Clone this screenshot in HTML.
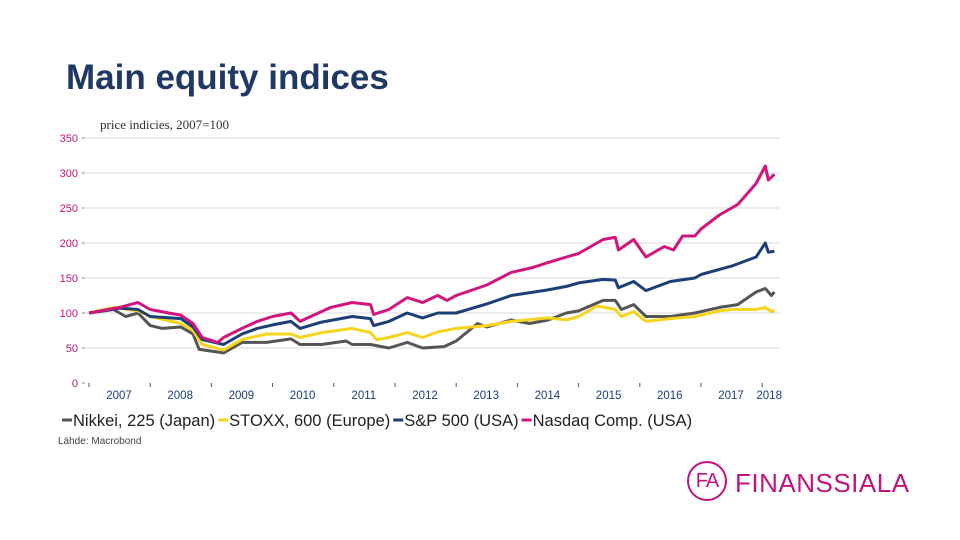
<!DOCTYPE html>
<html><head><meta charset="utf-8"><style>
body{margin:0;background:#fff;width:960px;height:540px;overflow:hidden;position:relative;font-family:"Liberation Sans",sans-serif}
.t{position:absolute;white-space:nowrap}
</style></head><body>
<div class="t" style="left:66px;top:58px;font-size:35px;font-weight:bold;color:#203864">Main equity indices</div>
<div class="t" style="left:100px;top:117px;font-size:13px;font-family:'Liberation Serif',serif;color:#333">price indicies, 2007=100</div>
<svg id="chart" width="960" height="540" style="position:absolute;left:0;top:0"></svg>
<div class="t" style="left:58px;top:436px;font-size:10px;color:#444">Lähde: Macrobond</div>
<div style="position:absolute;left:687px;top:461px;">
<div style="position:absolute;left:0;top:0;width:40px;height:40px;border:2px solid #c0157f;border-radius:50%;box-sizing:border-box;color:#c0157f;font-size:20px;line-height:36px;text-align:center;letter-spacing:-1px">FA</div>
<div class="t" style="left:48px;top:7px;font-size:26px;color:#c0157f;letter-spacing:0.5px">FINANSSIALA</div>
</div>
<script>
const yTicks=[0,50,100,150,200,250,300,350];
const years=[2007,2008,2009,2010,2011,2012,2013,2014,2015,2016,2017,2018];
const seriesNames=["Nikkei, 225 (Japan)","STOXX, 600 (Europe)","S&P 500 (USA)","Nasdaq Comp. (USA)"];
const nikkeiT=[2007,2007.4,2007.6,2007.8,2008.0,2008.2,2008.5,2008.7,2008.8,2009.2,2009.5,2009.9,2010.3,2010.45,2010.8,2011.2,2011.3,2011.6,2011.9,2012.2,2012.45,2012.8,2013.0,2013.35,2013.5,2013.9,2014.2,2014.5,2014.8,2015.0,2015.4,2015.6,2015.7,2015.9,2016.1,2016.5,2016.9,2017.3,2017.6,2017.9,2018.05,2018.15,2018.2];
const nikkeiV=[100,105,95,100,82,78,80,70,48,43,58,58,63,55,55,60,55,55,50,58,50,52,60,85,80,90,85,90,100,103,118,118,105,112,95,95,100,108,112,130,135,125,130];
const stoxxT=[2007,2007.4,2007.8,2008.0,2008.5,2008.7,2008.85,2009.2,2009.5,2009.9,2010.3,2010.45,2010.8,2011.3,2011.6,2011.7,2011.9,2012.2,2012.45,2012.7,2013.0,2013.5,2013.9,2014.5,2014.8,2015.0,2015.3,2015.6,2015.7,2015.9,2016.1,2016.5,2016.9,2017.3,2017.5,2017.9,2018.05,2018.15,2018.2];
const stoxxV=[100,108,103,95,85,75,55,47,62,70,70,65,72,78,72,62,65,72,65,73,78,82,88,93,90,95,110,105,95,102,88,92,95,103,105,105,108,102,104];
const spT=[2007,2007.5,2007.8,2008.0,2008.5,2008.7,2008.85,2009.2,2009.5,2009.75,2010.0,2010.3,2010.45,2010.8,2011.3,2011.6,2011.65,2011.9,2012.2,2012.45,2012.7,2013.0,2013.5,2013.9,2014.5,2014.8,2015.0,2015.4,2015.6,2015.65,2015.9,2016.1,2016.5,2016.9,2017.0,2017.5,2017.9,2018.05,2018.1,2018.2];
const spV=[100,107,105,95,92,80,62,55,70,78,83,88,78,87,95,92,82,88,100,93,100,100,113,125,133,138,143,148,147,136,145,132,145,150,155,167,180,200,187,188];
const nasT=[2007,2007.5,2007.8,2008.0,2008.3,2008.5,2008.7,2008.85,2009.1,2009.2,2009.5,2009.75,2010.0,2010.3,2010.45,2010.7,2010.95,2011.3,2011.6,2011.65,2011.9,2012.2,2012.45,2012.7,2012.85,2013.0,2013.5,2013.9,2014.25,2014.5,2014.8,2015.0,2015.4,2015.6,2015.65,2015.9,2016.1,2016.4,2016.55,2016.7,2016.9,2017.0,2017.3,2017.6,2017.9,2018.05,2018.1,2018.2];
const nasV=[100,108,115,105,100,97,85,65,58,65,78,88,95,100,88,98,108,115,112,98,105,122,115,125,118,125,140,158,165,172,180,185,205,208,190,205,180,195,190,210,210,220,240,255,285,310,290,298];
const colors=["#555555","#f5d51e","#1c3f75","#d1177e"];
const X=t=>89+(t-2007)*61.2;
const Y=v=>383-v*0.7;
const svg=document.getElementById('chart');
const NS="http://www.w3.org/2000/svg";
function mk(tag,attrs){const e=document.createElementNS(NS,tag);for(const k in attrs)e.setAttribute(k,attrs[k]);svg.appendChild(e);return e;}
yTicks.forEach(v=>{
  if(v>0){const g=mk('line',{x1:86,x2:780,y1:Y(v),y2:Y(v),stroke:'#d9d9d9','stroke-width':1});
  
  }
  const tx=mk('text',{x:78,y:Y(v)+4,'text-anchor':'end','font-size':11,fill:'#c0157f','font-family':'Liberation Sans, sans-serif'});
  tx.textContent=v;
  
  
  mk('line',{x1:82,x2:85,y1:Y(v),y2:Y(v),stroke:'#888'});
});
years.forEach(yr=>{
  mk('line',{x1:X(yr),x2:X(yr),y1:383,y2:387,stroke:'#555'});
  const cx=yr===2018?X(yr)+7:X(yr)+30;
  const tx=mk('text',{x:cx,y:399,'text-anchor':'middle','font-size':11.5,fill:'#1c3f75','font-family':'Liberation Sans, sans-serif'});
  tx.textContent=yr;
  
  
});
const data=[[nikkeiT,nikkeiV],[stoxxT,stoxxV],[spT,spV],[nasT,nasV]];
const names=['nikkei-line','stoxx-line','sp500-line','nasdaq-line'];
data.forEach((d,i)=>{
  const pts=d[0].map((t,j)=>X(t).toFixed(1)+','+Y(d[1][j]).toFixed(1)).join(' ');
  const p=mk('polyline',{points:pts,fill:'none',stroke:colors[i],'stroke-width':3,'stroke-linejoin':'round'});
  
  
});
let lx=62;
seriesNames.forEach((n,i)=>{
  const m=mk('line',{x1:lx,x2:lx+10,y1:420,y2:420,stroke:colors[i],'stroke-width':3});
  const tx=mk('text',{x:lx+11,y:426,'font-size':16.5,fill:'#222','font-family':'Liberation Sans, sans-serif'});
  tx.textContent=n;
  
  
  lx+=11+tx.getComputedTextLength()+3;
});
</script>
</body></html>
